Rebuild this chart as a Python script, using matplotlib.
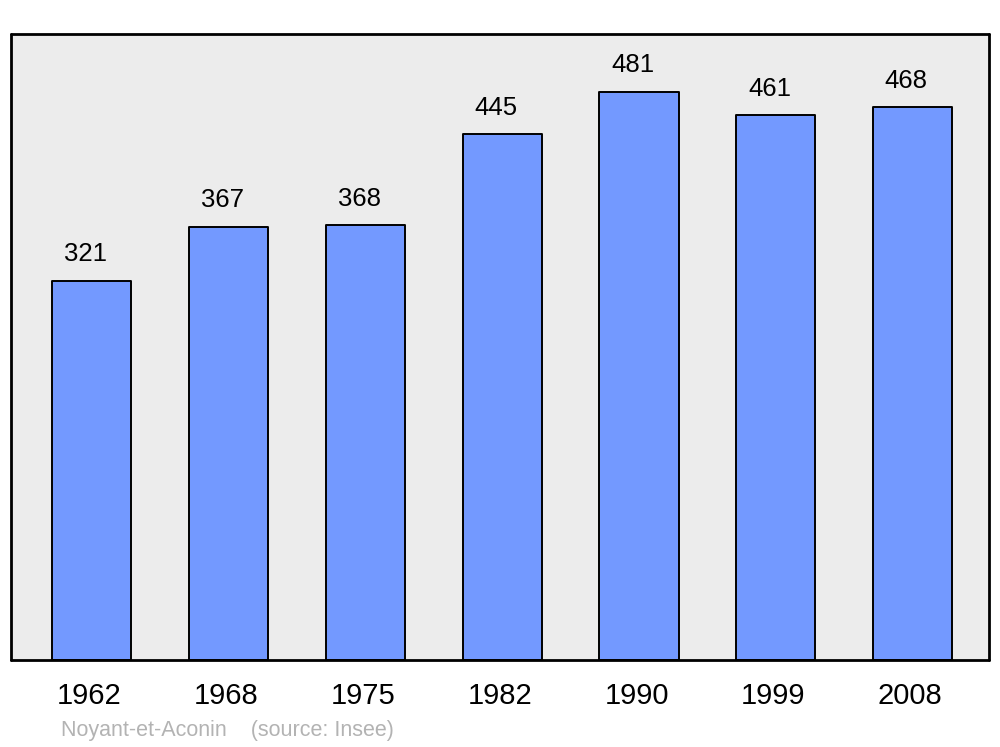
import matplotlib.pyplot as plt
from matplotlib.transforms import ScaledTranslation

plt.rcParams["font.family"] = ["Liberation Sans", "DejaVu Sans"]

years = ["1962", "1968", "1975", "1982", "1990", "1999", "2008"]
population = [321, 367, 368, 445, 481, 461, 468]
commune = "Noyant-et-Aconin"
source = "(source: Insee)"

BAR_COLOR = "#7399ff"
BG_COLOR = "#ececec"

fig = plt.figure(figsize=(10, 7.47), dpi=100)
ax = fig.add_axes([0.011, 0.1165, 0.978, 0.838])
ax.set_facecolor(BG_COLOR)

x = list(range(len(years)))
bars = ax.bar(x, population, width=0.578, color=BAR_COLOR,
              edgecolor="black", linewidth=1.4, zorder=2)
for b in bars:
    b.set_joinstyle("round")

for xi, val in zip(x, population):
    ax.annotate(str(val), (xi, val), xytext=(-4.5, 19), textcoords="offset points",
                ha="center", va="center", fontsize=18.5)

ax.set_xlim(-0.592, 6.559)
ax.set_ylim(0, 530)
ax.set_xticks(x)
ax.set_xticklabels(years, fontsize=21)
ax.tick_params(axis="x", length=0, pad=16)
ax.set_yticks([])
# year labels sit a touch left of the bar centres in the original
shift = ScaledTranslation(-2.5 / 100, 0, fig.dpi_scale_trans)
for lbl in ax.get_xticklabels():
    lbl.set_transform(lbl.get_transform() + shift)

for sp in ax.spines.values():
    sp.set_linewidth(2.0)
    sp.set_capstyle("round")
    sp.set_joinstyle("round")

fig.text(0.061, 0.0225, f"{commune}    {source}", fontsize=15.5,
         color="#b3b3b3", ha="left", va="center")

fig.savefig("out.png", dpi=100, facecolor="white")
